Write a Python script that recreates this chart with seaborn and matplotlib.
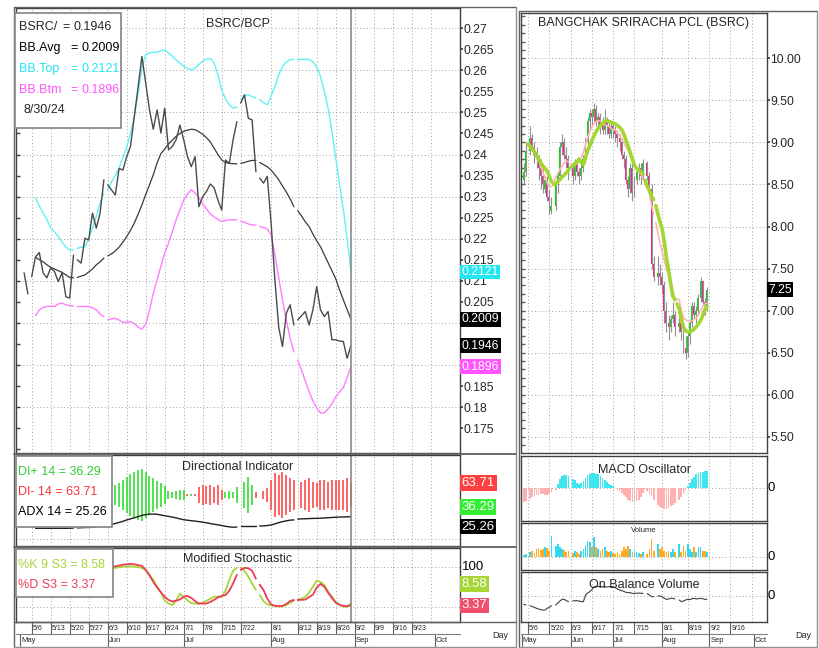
import numpy as np
import pandas as pd
import matplotlib
matplotlib.use('Agg')
import matplotlib.pyplot as plt
import matplotlib.transforms as mtransforms
from matplotlib.patches import Rectangle
from matplotlib.lines import Line2D
import seaborn as sns

# ---------------- data: one value per trading day (day 0 = 5/1/24) ----------------
ratio = [None, 0.2119, 0.2069, 0.2110, 0.2157, 0.2167, 0.2119, 0.2107, 0.2131, 0.2122,
         0.2098, 0.2119, 0.2062, 0.2059, 0.2161, 0.2150, 0.2142, 0.2201, 0.2197, 0.2261,
         0.2225, 0.2261, 0.2340, 0.2328, 0.2316, 0.2304, 0.2367, 0.2363, 0.2395, 0.2419,
         0.2490, 0.2560, 0.2633, 0.2570, 0.2506, 0.2460, 0.2506, 0.2451, 0.2510, 0.2411,
         0.2419, 0.2435, 0.2470, 0.2435, 0.2395, 0.2371, 0.2395, 0.2276, 0.2300, 0.2312,
         0.2330, 0.2321, 0.2292, 0.2268, 0.2387, 0.2379, 0.2435, 0.2478, 0.2522, 0.2542,
         0.2486, 0.2482, 0.2359, 0.2344, 0.2332, 0.2348, 0.2237, 0.2102, 0.1990, 0.1944,
         0.2023, 0.2043, 0.1995, 0.2007, 0.2017, 0.2027, 0.1995, 0.2031, 0.2086, 0.2031,
         0.2015, 0.2027, 0.1960, 0.1960, 0.1957, 0.1956, 0.1916, 0.1946]

bb_avg = [None] * 4 + [
    0.2156, 0.2150, 0.2145, 0.2138, 0.2132, 0.2128,
    0.2124, 0.2120, 0.2114, 0.2108, 0.2107, 0.2108, 0.2111, 0.2114, 0.2121, 0.2128,
    0.2138, 0.2145, 0.2154, 0.2159, 0.2164, 0.2171, 0.2180, 0.2192, 0.2205, 0.2220,
    0.2237, 0.2258, 0.2280, 0.2305, 0.2328, 0.2352, 0.2380, 0.2402, 0.2413, 0.2425,
    0.2434, 0.2443, 0.2450, 0.2455, 0.2458, 0.2460, 0.2459, 0.2454, 0.2448, 0.2440,
    0.2430, 0.2415, 0.2400, 0.2387, 0.2381, 0.2379, 0.2378, 0.2378, 0.2379, 0.2381,
    0.2384, 0.2386, 0.2386, 0.2381, 0.2376, 0.2371, 0.2363, 0.2352, 0.2340, 0.2325,
    0.2311, 0.2295, 0.2276, 0.2267, 0.2254, 0.2240, 0.2229, 0.2211, 0.2195, 0.2181,
    0.2162, 0.2143, 0.2124, 0.2105, 0.2079, 0.2055, 0.2032, 0.2009]

bb_top = [None] * 4 + [
    0.2297, 0.2278, 0.2261, 0.2245, 0.2226, 0.2216,
    0.2205, 0.2192, 0.2180, 0.2173, 0.2173, 0.2177, 0.2180, 0.2181, 0.2201, 0.2225,
    0.2253, 0.2285, 0.2308, 0.2316, 0.2335, 0.2350, 0.2368, 0.2392, 0.2418, 0.2450,
    0.2490, 0.2545, 0.2605, 0.2637, 0.2641, 0.2643, 0.2643, 0.2647, 0.2648, 0.2641,
    0.2634, 0.2625, 0.2617, 0.2610, 0.2604, 0.2601, 0.2605, 0.2614, 0.2622, 0.2627,
    0.2628, 0.2618, 0.2590, 0.2553, 0.2532, 0.2518, 0.2510, 0.2513, 0.2530, 0.2539,
    0.2542, 0.2538, 0.2534, 0.2530, 0.2523, 0.2518, 0.2539, 0.2561, 0.2589, 0.2609,
    0.2620, 0.2625, 0.2626, 0.2626, 0.2626, 0.2626, 0.2626, 0.2620, 0.2608, 0.2585,
    0.2550, 0.2510, 0.2455, 0.2391, 0.2332, 0.2269, 0.2202, 0.2121]

bb_btm = [None] * 4 + [
    0.2017, 0.2031, 0.2037, 0.2039, 0.2040, 0.2039,
    0.2045, 0.2047, 0.2043, 0.2041, 0.2040, 0.2039, 0.2039, 0.2039, 0.2039, 0.2036,
    0.2031, 0.2021, 0.2015, 0.2007, 0.2010, 0.2011, 0.2007, 0.2001, 0.2002, 0.2003,
    0.1998, 0.1990, 0.1985, 0.1997, 0.2030, 0.2071, 0.2102, 0.2135, 0.2166, 0.2190,
    0.2216, 0.2245, 0.2268, 0.2292, 0.2306, 0.2316, 0.2309, 0.2297, 0.2283, 0.2271,
    0.2259, 0.2252, 0.2246, 0.2241, 0.2243, 0.2245, 0.2245, 0.2245, 0.2242, 0.2239,
    0.2235, 0.2233, 0.2232, 0.2229, 0.2227, 0.2223, 0.2209, 0.2162, 0.2107, 0.2055,
    0.2007, 0.1964, 0.1931, 0.1912, 0.1888, 0.1862, 0.1836, 0.1815, 0.1798, 0.1786,
    0.1786, 0.1796, 0.1808, 0.1824, 0.1836, 0.1846, 0.1870, 0.1896]

# DI+ (DI- is 100 - DI+), ADX
di_plus = [None] * 25 + [
    61.4, 63.3, 67.1, 70.9, 73.6,
    75.8, 78.5, 79.6, 76.6, 72.0, 69.0, 66.0, 63.3, 60.6, 54.6,
    53.8, 54.6, 55.7, 55.7, 48.9, 51.1, 49.2, 40.5, 38.6, 39.4,
    38.6, 40.5, 38.6, 44.3, 53.0, 54.6, 53.8, 59.5, None, 65.2,
    70.9, 61.4, 46.2, None, 45.4, 42.4, 32.9, 25.3, 27.2, 23.4,
    27.2, 31.0, 32.9, None, 34.8, 32.9, 31.0, 34.8, 36.7, 32.9,
    32.9, 34.8, 32.9, 32.9, 32.9, 32.9, 31.0, 36.29]

adx = [None] * 4 + [
    12.0, 12.0, 12.0, 12.0, 12.0, 12.0,
    12.0, 12.0, 12.0, 12.1, 12.3, 12.5, 12.7, 12.9, 13.0, 13.2,
    13.8, 14.4, 15.1, 15.6, 16.5, 17.5, 18.7, 20.0, 21.5, 22.8,
    24.0, 25.3, 26.8, 27.6, 28.1, 28.3, 28.0, 27.2, 26.3, 25.6,
    24.8, 23.9, 22.8, 21.8, 21.2, 20.7, 20.2, 19.7, 19.0, 18.3,
    17.4, 16.7, 16.0, 15.2, 14.3, 13.7, 13.2, 13.5, 14.7, 14.7,
    14.7, 14.7, 14.7, 14.7, 14.7, 15.2, 15.8, 17.0, 18.5, 19.6,
    20.5, 21.3, 21.6, 22.6, 22.8, 22.9, 23.1, 23.3, 23.4, 23.6,
    23.8, 24.1, 24.4, 24.6, 24.8, 25.0, 25.1, 25.26]

stoch_k = [None] * 20 + [
    92, 94, 95, 96, 96, 97, 99, 100, 101, 101,
    100, 99, 97, 92, 80, 67, 50, 36, 15, 8,
    4, 15, 33, 24, 16, 9, 8, 7, 10, 15,
    20, 25, 25, 25, 40, 67, 90, 97, 98, 90,
    75, 58, 42, 29, 14, 6, 3, 2, 0, 1,
    4, 10, 15, 17, 20, 25, 35, 50, 65, 62,
    54, 38, 25, 12, 5, 0, 0, 8.58]

stoch_d = [None] * 20 + [
    88, 91, 94, 97, 99, 101, 103, 105, 106, 107,
    106, 104, 102, 92, 78, 62, 48, 36, 25, 17,
    13, 15, 18, 25, 27, 22, 14, 8, 8, 8,
    12, 17, 23, 27, 29, 40, 58, 80, 92, 97,
    96, 90, 70, 55, 42, 20, 6, 2, 2, 2,
    7, 14, 17, 17, 17, 18, 24, 30, 48, 57,
    50, 35, 22, 10, 5, 2, 1, 3.37]

# BSRC daily candles
px_open = [None, 8.55, 8.65, None, 8.90, 9.05, 8.95, 8.85, 8.80, 8.70,
           8.60, 8.45, 8.55, 8.35, 8.18, None, 8.25, 8.50, 8.60, 8.95,
           9.00, 8.85, 8.80, None, 8.70, 8.60, 8.75, 8.65, 8.60, 8.70,
           8.80, 9.00, 9.25, 9.35, 9.30, 9.40, 9.25, 9.30, 9.20, 9.15,
           9.25, 9.20, 9.10, 9.20, 9.15, 9.10, 9.05, 9.00, 8.85, 8.80,
           8.55, 8.45, 8.70, 8.40, 8.55, 8.65, 8.70, 8.60, None, 8.75,
           8.60, 8.45, 7.55, None, 7.40, 7.45, 7.40, 7.30, 7.00, 6.85,
           6.80, 6.90, 6.95, None, 6.80, 6.85, 6.75, 6.55, 6.50, 6.70,
           6.85, 7.05, 6.95, 7.00, 7.15, 7.35, 7.10, 7.05]
px_high = [None, 8.75, 9.00, None, 9.20, 9.10, 9.00, 8.95, 8.85, 8.80,
           8.70, 8.60, 8.60, 8.45, 8.35, None, 8.55, 8.65, 9.00, 9.10,
           9.05, 8.95, 8.85, None, 8.75, 8.80, 8.80, 8.70, 8.75, 8.85,
           9.05, 9.30, 9.40, 9.40, 9.47, 9.45, 9.35, 9.35, 9.30, 9.40,
           9.30, 9.25, 9.25, 9.25, 9.20, 9.15, 9.10, 9.05, 8.90, 8.85,
           8.60, 8.75, 8.75, 8.60, 8.70, 8.75, 8.75, 8.80, None, 8.78,
           8.65, 8.50, 7.65, None, 7.65, 7.55, 7.45, 7.35, 7.10, 6.95,
           6.95, 7.10, 7.00, None, 6.95, 6.90, 6.80, 6.70, 6.75, 6.90,
           7.10, 7.10, 7.05, 7.20, 7.40, 7.35, 7.15, 7.28]
px_low = [None, 8.50, 8.60, None, 8.85, 8.90, 8.75, 8.70, 8.55, 8.45,
          8.40, 8.40, 8.30, 8.15, 8.15, None, 8.20, 8.40, 8.55, 8.85,
          8.80, 8.70, 8.55, None, 8.50, 8.55, 8.60, 8.50, 8.55, 8.65,
          8.75, 8.95, 9.15, 9.20, 9.25, 9.20, 9.15, 9.10, 9.10, 9.10,
          9.10, 9.05, 9.05, 9.05, 9.00, 8.95, 8.90, 8.80, 8.70, 8.50,
          8.35, 8.40, 8.30, 8.35, 8.50, 8.55, 8.50, 8.55, None, 8.55,
          8.40, 7.50, 7.35, None, 7.30, 7.30, 7.20, 6.85, 6.75, 6.65,
          6.75, 6.85, 6.70, None, 6.75, 6.65, 6.50, 6.42, 6.45, 6.60,
          6.80, 6.90, 6.85, 6.95, 7.10, 7.05, 6.95, 7.00]
px_close = [None, 8.65, 8.90, None, 9.05, 8.95, 8.85, 8.80, 8.70, 8.60,
            8.50, 8.55, 8.35, 8.30, 8.25, None, 8.50, 8.60, 8.95, 9.00,
            8.85, 8.80, 8.70, None, 8.60, 8.75, 8.65, 8.60, 8.70, 8.80,
            9.00, 9.25, 9.35, 9.30, 9.40, 9.25, 9.30, 9.20, 9.15, 9.25,
            9.20, 9.10, 9.20, 9.15, 9.10, 9.05, 9.00, 8.85, 8.80, 8.55,
            8.45, 8.70, 8.40, 8.55, 8.65, 8.70, 8.60, 8.75, None, 8.60,
            8.45, 7.55, 7.40, None, 7.45, 7.40, 7.30, 7.00, 6.85, 6.80,
            6.90, 6.95, 6.80, None, 6.85, 6.75, 6.55, 6.50, 6.70, 6.85,
            7.05, 6.95, 7.00, 7.15, 7.35, 7.10, 7.05, 7.25]

ma_slow = [None, None, 9.00, 8.98, 8.95, 8.92, 8.89, 8.85, 8.80, 8.76,
           8.72, 8.69, 8.66, 8.60, 8.53, 8.50, 8.51, 8.53, 8.56, 8.59,
           8.61, 8.64, 8.67, 8.70, 8.72, 8.75, 8.77, 8.80, 8.76, 8.74,
           8.82, 8.90, 8.96, 9.02, 9.08, 9.13, 9.17, 9.20, 9.23, 9.25,
           9.26, 9.25, 9.24, 9.23, 9.22, 9.20, 9.18, 9.15, 9.10, 9.03,
           8.96, 8.88, 8.80, 8.73, 8.69, 8.67, 8.65, 8.62, 8.55, 8.48,
           8.43, 8.36, 8.32, 8.25, 8.15, 8.05, 7.97, 7.82, 7.63, 7.48,
           7.32, 7.17, 7.13, 7.08, 7.02, 6.90, 6.80, 6.76, 6.75, 6.75,
           6.76, 6.78, 6.81, 6.84, 6.88, 6.94, 7.01, 7.05]
ma_fast = [None, None, 9.02, 9.00, 8.97, 8.93, 8.88, 8.83, 8.78, 8.72,
           8.65, 8.58, 8.52, 8.47, 8.48, 8.52, 8.58, 8.63, 8.68, 8.72,
           8.76, 8.78, 8.77, 8.74, 8.72, 8.73, 8.75, 8.78, 8.82, 8.88,
           8.97, 9.06, 9.13, 9.18, 9.22, 9.25, 9.26, 9.25, 9.23, 9.21,
           9.20, 9.19, 9.17, 9.15, 9.15, 9.12, 9.08, 9.04, 9.00, 8.95,
           8.90, 8.86, 8.82, 8.76, 8.70, 8.66, 8.62, 8.58, 8.52, 8.46,
           8.40, 8.25, 8.15, 8.05, 7.92, 7.80, 7.70, 7.60, 7.50, 7.42,
           7.33, 7.22, 7.15, 7.14, 7.13, 7.00, 6.92, 6.89, 6.88, 6.87,
           6.88, 6.90, 6.91, 6.95, 7.00, 7.05, 7.08, 7.09]

macd_hist = [None, -0.100, -0.088, None, -0.074, -0.065, -0.058, -0.051, -0.047, -0.042,
             -0.042, -0.047, -0.051, -0.042, -0.028, None, -0.012, 0.023, 0.058, 0.081,
             0.088, 0.088, 0.081, None, 0.058, 0.051, 0.035, 0.028, 0.035, 0.047,
             0.070, 0.088, 0.098, 0.100, 0.100, 0.098, 0.093, 0.081, 0.065, 0.051,
             0.042, 0.028, 0.019, 0.012, 0.002, -0.012, -0.023, -0.035, -0.051, -0.065,
             -0.081, -0.093, -0.100, -0.100, -0.093, -0.081, -0.065, -0.035, None, -0.023,
             -0.042, -0.058, -0.081, None, -0.116, -0.135, -0.140, -0.144, -0.147, -0.140,
             -0.128, -0.116, -0.105, None, -0.081, -0.065, -0.042, -0.019, 0.012, 0.035,
             0.058, 0.077, 0.093, 0.105, 0.109, 0.112, 0.116, 0.116]

volume = [None, 0.8, 1.0, None, 1.5, 2.0, 1.2, 2.5, 2.8, 2.2,
          2.5, 3.0, 2.8, 2.0, 6.5, None, 3.5, 4.0, 3.0, 2.5,
          2.2, 1.5, 2.0, None, 1.2, 2.0, 1.5, 1.0, 1.8, 2.5,
          3.5, 5.0, 4.5, 3.0, 6.0, 3.0, 2.5, 2.0, 2.5, 3.0,
          2.0, 1.5, 1.8, 1.2, 1.0, 1.5, 1.0, 2.0, 3.0, 2.5,
          3.5, 2.5, 1.5, 1.8, 1.5, 1.2, 1.0, 1.5, None, 1.0,
          2.5, 5.5, 2.0, None, 4.0, 2.5, 3.0, 2.0, 1.5, 2.0,
          1.5, 2.5, 1.5, None, 4.0, 1.5, 3.5, 2.0, 4.0, 2.5,
          1.5, 3.0, 1.5, 3.0, 3.2, 2.0, 1.8, 1.5]

obv = [None, -2.6, -2.8, None, -3.0, -3.3, -3.5, -3.8, -4.0, -4.2,
       -4.3, -4.3, -3.8, -3.5, -3.0, None, -2.8, -2.2, -1.6, -1.1,
       -1.1, -1.5, -1.8, None, -1.6, -1.5, -1.5, -1.6, -1.8, -1.8,
       0.2, 0.8, 1.2, 1.8, 2.7, 2.7, 2.8, 2.7, 2.7, 2.7,
       2.6, 2.7, 2.7, 2.7, 2.4, 2.0, 1.7, 1.5, 1.3, 1.0,
       0.9, 0.9, 0.7, 0.7, 0.7, 0.8, 0.7, 0.7, None, 0.6,
       0.2, -0.3, -0.3, None, -0.1, -0.1, -0.3, -0.8, -1.1, -1.0,
       -0.8, -0.8, -1.0, None, -1.3, -1.8, -1.6, -1.3, -1.1, -1.2,
       -0.9, -0.8, -1.0, -0.9, -0.8, -0.9, -1.1, -1.1]

holidays = ['5/6', '5/22', '6/3', '7/22', '7/29', '8/12']
left_ticks = ['5/6', '5/13', '5/20', '5/27', '6/3', '6/10', '6/17', '6/24', '7/1', '7/8',
              '7/15', '7/22', '8/1', '8/12', '8/19', '8/26', '9/2', '9/9', '9/16', '9/23']
right_ticks = ['5/6', '5/20', '6/3', '6/17', '7/1', '7/15', '8/1', '8/19', '9/2', '9/16']
months = [('May', '5/1'), ('Jun', '6/3'), ('Jul', '7/1'), ('Aug', '8/1'), ('Sep', '9/2'), ('Oct', '10/1')]
last_day = '8/30'

# ---------------- setup ----------------
sns.set_theme(style='white')
plt.rcParams['font.family'] = ['Liberation Sans Narrow', 'Liberation Sans', 'DejaVu Sans']

days = pd.bdate_range('2024-05-01', '2024-11-29')


def pos(lab):
    m, d = lab.split('/')
    return days.get_loc(pd.Timestamp(2024, int(m), int(d)))


breaks = [pos(h) for h in holidays]

W, H = 819, 648
fig = plt.figure(figsize=(W / 100, H / 100), dpi=100)
fig.patch.set_facecolor('white')
GRID = '#a0a0a0'
DOT = (0, (1, 2.5))
FS = 9


def fy(y):
    return 1 - y / H


def px_ax(x0, y0, x1, y1, xlim):
    ax = fig.add_axes([x0 / W, 1 - y1 / H, (x1 - x0) / W, (y1 - y0) / H])
    ax.set_facecolor('white')
    for s in ax.spines.values():
        s.set_color('#404040')
        s.set_linewidth(1.0)
        s.set_visible(True)
    ax.tick_params(left=False, bottom=False, labelleft=False, labelbottom=False)
    ax.set_xlim(*xlim)
    return ax


def line(ax, vals, color, lw):
    rows, seg = [], 0
    for i, v in enumerate(vals):
        if i in breaks:
            seg += 1
        if v is not None:
            rows.append((i, v, seg))
    df = pd.DataFrame(rows, columns=['day', 'val', 'seg'])
    sns.lineplot(data=df, x='day', y='val', units='seg', estimator=None, color=color,
                 lw=lw, ax=ax, legend=False)
    ax.set_xlabel('')
    ax.set_ylabel('')


def grid(ax, xlabels, ys):
    for lab in xlabels:
        ax.axvline(pos(lab), color=GRID, lw=0.7, ls=DOT, zorder=0)
    for y in ys:
        ax.axhline(y, color=GRID, lw=0.7, ls=DOT, zorder=0)


def tag(ax, y, s, bg, fg='white', size=8.8, xo=1.004):
    tr = mtransforms.blended_transform_factory(ax.transAxes, ax.transData)
    kw = dict(boxstyle='square,pad=0.12', fc=bg, ec='none') if bg else None
    ax.text(xo, y, s, transform=tr, ha='left', va='center', fontsize=size, color=fg,
            bbox=kw, clip_on=False, zorder=10)


def ftext(x, y, s, **kw):
    fig.text(x / W, fy(y), s, **kw)


def fbox(x0, y0, x1, y1):
    fig.add_artist(Rectangle((x0 / W, fy(y1)), (x1 - x0) / W, (y1 - y0) / H,
                             transform=fig.transFigure, fc='white', ec='#8c8c8c', lw=1.3, zorder=5))


def fline(x0, y0, x1, y1, color='#505050', lw=1.0):
    fig.add_artist(Line2D([x0 / W, x1 / W], [fy(y0), fy(y1)], transform=fig.transFigure,
                          color=color, lw=lw, zorder=4))


def date_axis(ax, ticks, x0, x1):
    tr = mtransforms.blended_transform_factory(ax.transData, fig.transFigure)
    trt = mtransforms.offset_copy(tr, fig=fig, x=1.2, y=0, units='dots')
    for lab in ticks:
        d = pos(lab)
        ax.add_line(Line2D([d, d], [fy(622), fy(634)], transform=tr, color='#606060',
                           lw=0.8, clip_on=False))
        ax.text(d, fy(628.5), lab, transform=trt, ha='left', va='center', fontsize=5,
                clip_on=False)
    for name, lab in months:
        d = pos(lab)
        ax.add_line(Line2D([d, d], [fy(634), fy(646)], transform=tr, color='#606060',
                           lw=0.8, clip_on=False))
        ax.text(d, fy(640.5), name, transform=trt, ha='left', va='center', fontsize=5.5,
                clip_on=False)
    fline(x0, 634, x1, 634, '#808080', 0.8)


LX = (-1.13, 115.71)
RX = (-0.28, 115.21)
N = len(ratio)
idx = np.arange(N)

# ---------------- left: BSRC/BCP ratio ----------------
ax1 = px_ax(16, 8, 460, 453, LX)
grid(ax1, left_ticks + ['9/30'], [round(0.18 + 0.01 * i, 2) for i in range(10)])
line(ax1, bb_top, '#5ff2f2', 1.0)
line(ax1, bb_btm, '#ff7cff', 1.0)
line(ax1, bb_avg, '#3a3a3a', 0.9)
line(ax1, ratio, '#4a4a4a', 1.0)
ax1.axvline(pos(last_day), color='#8a8a8a', lw=1.2)
ax1.set_ylim(0.1691, 0.2748)
# 0.19, 0.195 and 0.2 sit under the value tags
yt = [round(0.175 + 0.005 * i, 3) for i in range(20)]
yt = [v for v in yt if v not in (0.19, 0.195, 0.2)]
ax1.set_yticks(yt, labels=[f'{v:g}' for v in yt])
ax1.yaxis.tick_right()
ax1.tick_params(axis='y', right=True, labelright=True, length=2, pad=0.5, labelsize=8.8,
                color='#404040')
ax1.yaxis.remove_overlapping_locs = False
ax1.set_yticks([round(0.17 + 0.005 * i, 3) for i in range(21)], minor=True)
ax1.tick_params(axis='y', which='minor', left=True, right=False, direction='in', length=3,
                color='#404040')
tag(ax1, 0.2121, '0.2121', '#22e6f2')
tag(ax1, 0.2009, '0.2009', 'black')
tag(ax1, 0.1946, '0.1946', 'black')
tag(ax1, 0.1896, '0.1896', '#ff55ff')

# ---------------- left: directional indicator ----------------
ax2 = px_ax(16, 455, 460, 546, LX)
grid(ax2, left_ticks + ['9/30'], [0])
for i in idx:
    p = di_plus[i]
    if p is None:
        continue
    ax2.vlines(i, p, 100 - p, color='#33dd33' if p > 50 else '#ff4a4a', lw=1.2)
line(ax2, adx, '#202020', 1.0)
ax2.axvline(pos(last_day), color='#8a8a8a', lw=1.2)
ax2.set_ylim(-8.15, 95.6)
tag(ax2, 100 - di_plus[-1], f'{100 - di_plus[-1]:.2f}', '#ff4040', size=9.5)
tag(ax2, di_plus[-1], f'{di_plus[-1]:.2f}', '#33ee33', size=9.5)
tag(ax2, adx[-1] - 11.5, f'{adx[-1]:.2f}', 'black', size=9.5)

# ---------------- left: modified stochastic ----------------
ax3 = px_ax(16, 548, 460, 622, LX)
grid(ax3, left_ticks + ['9/30'], [0, 100])
line(ax3, stoch_k, '#a6d636', 1.3)
line(ax3, stoch_d, '#ee3b5a', 1.3)
ax3.axvline(pos(last_day), color='#8a8a8a', lw=1.2)
ax3.set_ylim(-38.25, 146.75)
tag(ax3, 100, '100', None, fg='black', size=9.5)
tag(ax3, 56.7, f'{stoch_k[-1]:.2f}', '#a6d636', size=9.5)
tag(ax3, stoch_d[-1], f'{stoch_d[-1]:.2f}', '#f0506e', size=9.5)
date_axis(ax3, left_ticks, 16, 460)

# ---------------- right: BSRC candles ----------------
ax4 = px_ax(521, 13, 767, 453, RX)
grid(ax4, right_ticks + ['9/30'], [5.5 + 0.5 * i for i in range(10)])
for i in idx:
    o, hi, lo, cl = px_open[i], px_high[i], px_low[i], px_close[i]
    if o is None:
        continue
    col = '#00e000' if cl > o else ('#ff1a8c' if cl < o else '#a0a0a0')
    ax4.vlines(i, lo, hi, color='#909090', lw=0.8)
    ax4.bar(i, max(abs(cl - o), 0.015), bottom=min(o, cl), width=0.9, color=col, lw=0)
line(ax4, ma_fast, '#ffb4b4', 1.2)
line(ax4, ma_slow, '#a4d630', 2.6)
ax4.set_ylim(5.307, 10.539)
rt = [5.5 + 0.5 * i for i in range(10)]
ax4.set_yticks(rt, labels=[f'{v:.2f}' for v in rt])
ax4.yaxis.tick_right()
ax4.tick_params(axis='y', right=True, labelright=True, length=2, pad=0.5, labelsize=8.8,
                color='#404040')
ax4.yaxis.remove_overlapping_locs = False
ax4.set_yticks(np.round(np.arange(5.4, 10.55, 0.1), 1), minor=True)
ax4.tick_params(axis='y', which='minor', left=True, right=False, direction='in', length=3,
                color='#606060')
tag(ax4, px_close[-1], f'{px_close[-1]:.2f}', 'black')

# ---------------- right: MACD ----------------
ax5 = px_ax(521, 456, 767, 521, RX)
grid(ax5, right_ticks + ['9/30'], [0])
mx = [i for i in idx if macd_hist[i] is not None]
mv = [macd_hist[i] for i in mx]
ax5.bar(mx, mv, width=0.8, lw=0, color=['#3ee6f2' if v > 0 else '#ffb0b0' for v in mv])
ax5.set_ylim(-0.228, 0.2185)
tag(ax5, 0, '0', None, fg='black', size=9.5)

# ---------------- right: volume ----------------
ax6 = px_ax(521, 523, 767, 570, RX)
grid(ax6, right_ticks + ['9/30'], [0])
vx = [i for i in idx if volume[i] is not None]
vv = [volume[i] for i in vx]
vc = ['#33d8f0' if px_close[i] >= px_open[i] else '#ffaa22' for i in vx]
ax6.bar(vx, vv, width=0.8, lw=0, color=vc)
ax6.set_ylim(-3.8, 10.3)
tag(ax6, 0, '0', None, fg='black', size=9.5)

# ---------------- right: on balance volume ----------------
ax7 = px_ax(521, 572, 767, 622, RX)
grid(ax7, right_ticks + ['9/30'], [0])
line(ax7, obv, '#404040', 0.8)
ax7.set_ylim(-7.9, 7.1)
tag(ax7, 0, '0', None, fg='black', size=9.5)
date_axis(ax7, right_ticks, 521, 767)

# ---------------- frames ----------------
fline(14, 7, 516, 7, '#606060')
fline(14, 7, 14, 647, '#606060')
fline(516, 7, 516, 647, '#909090')
fline(14, 647, 516, 647, '#909090')
fline(14, 454, 516, 454, '#606060', 1.3)
fline(14, 547, 516, 547, '#606060', 1.3)
fline(14, 622, 516, 622, '#606060', 1.0)
fline(519, 11, 817, 11, '#606060')
fline(519, 11, 519, 647, '#606060')
fline(817, 11, 817, 647, '#909090')
fline(519, 647, 817, 647, '#909090')

# ---------------- titles and legends ----------------
ftext(238, 24, 'BSRC/BCP', ha='center', va='center', fontsize=FS, zorder=6)
fbox(15.5, 13, 121, 128)
ftext(19, 27, 'BSRC/', va='center', fontsize=FS, zorder=6)
ftext(62, 27, '=', va='center', fontsize=FS, zorder=6)
ftext(73, 27, f'{ratio[-1]:.4f}', va='center', fontsize=FS, zorder=6)
for y, name, val, col in [(48, 'BB.Avg', bb_avg[-1], 'black'),
                          (69, 'BB.Top', bb_top[-1], '#22e6f2'),
                          (90, 'BB.Btm', bb_btm[-1], '#ff55ff')]:
    ftext(19, y, name, va='center', fontsize=FS, color=col, zorder=6)
    ftext(70, y, '=', va='center', fontsize=FS, color=col, zorder=6)
    ftext(81, y, f'{val:.4f}', va='center', fontsize=FS, color=col, zorder=6)
ftext(24, 110, '8/30/24', va='center', fontsize=FS, zorder=6)

ftext(238, 467, 'Directional Indicator', ha='center', va='center', fontsize=FS, zorder=6)
fbox(16, 456, 112, 527)
ftext(18.5, 472, f'DI+ 14 = {di_plus[-1]:.2f}', va='center', fontsize=FS, color='#33cc33', zorder=6)
ftext(18.5, 492, f'DI- 14 = {100 - di_plus[-1]:.2f}', va='center', fontsize=FS, color='#ff3333', zorder=6)
ftext(18.5, 512, f'ADX 14 = {adx[-1]:.2f}', va='center', fontsize=FS, color='black', zorder=6)

ftext(238, 559, 'Modified Stochastic', ha='center', va='center', fontsize=FS, zorder=6)
fbox(16, 549, 113, 597)
ftext(18.5, 565, f'%K 9 S3 = {stoch_k[-1]:.2f}', va='center', fontsize=FS, color='#a6d636', zorder=6)
ftext(18.5, 585, f'%D S3 = {stoch_d[-1]:.2f}', va='center', fontsize=FS, color='#ee3b5a', zorder=6)

ftext(644, 23, 'BANGCHAK SRIRACHA PCL (BSRC)', ha='center', va='center', fontsize=FS, zorder=6)
ftext(644, 470, 'MACD Oscillator', ha='center', va='center', fontsize=FS, zorder=6)
ftext(644, 531, 'Volume', ha='center', va='center', fontsize=5.5, zorder=6)
ftext(644, 585, 'On Balance Volume', ha='center', va='center', fontsize=FS, zorder=6)
ftext(500, 635, 'Day', ha='center', va='center', fontsize=6.5, zorder=6)
ftext(803, 635, 'Day', ha='center', va='center', fontsize=6.5, zorder=6)

fig.savefig('out.png', dpi=100, facecolor='white')
